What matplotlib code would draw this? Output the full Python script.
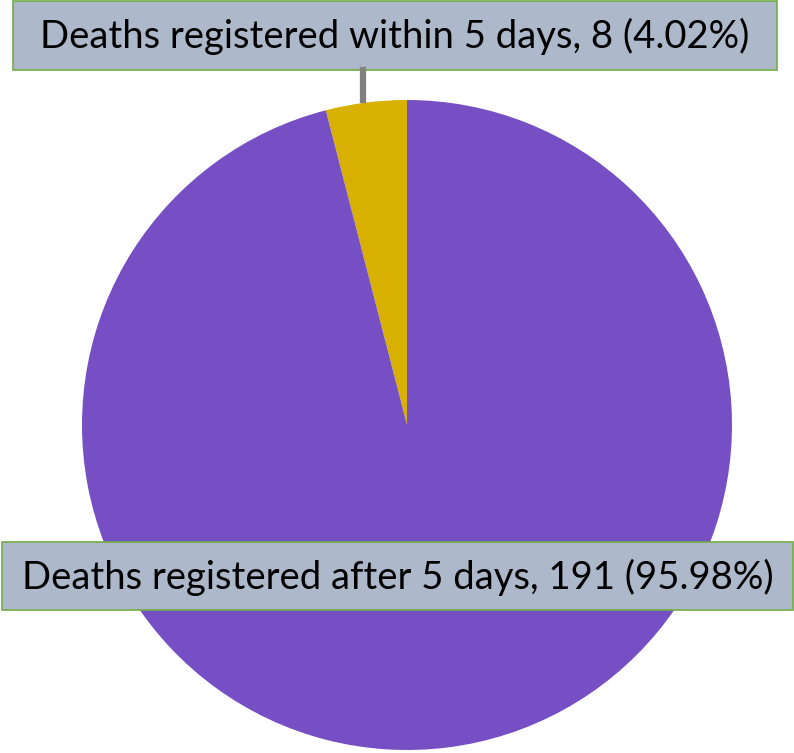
import matplotlib
matplotlib.use('Agg')
import matplotlib.pyplot as plt
from matplotlib.patches import Rectangle
from matplotlib.lines import Line2D

labels = ["Deaths registered within 5 days", "Deaths registered after 5 days"]
counts = [8, 191]
colors = ["#D8B000", "#764FC4"]

W, H = 794, 753
fig = plt.figure(figsize=(W / 100, H / 100), dpi=100)

# pie: centre (407, 425), radius 325 px
cx, cy, r = 407, 425, 325
ax = fig.add_axes([(cx - r) / W, (H - cy - r) / H, 2 * r / W, 2 * r / H])
ax.pie(counts, colors=colors, startangle=90, counterclock=True, radius=1)
ax.set_xlim(-1, 1)
ax.set_ylim(-1, 1)
ax.set_aspect('equal')
ax.axis('off')

total = sum(counts)
texts = [f"{l}, {c} ({c / total * 100:.2f}%)" for l, c in zip(labels, counts)]

# leader line for the small slice
fig.add_artist(Line2D([363 / W, 363 / W], [1 - 70 / H, 1 - 100 / H],
                      color="#808080", lw=4.5, transform=fig.transFigure))

# label boxes (pixel boxes: x0, y0, x1, y1)
boxes = [(13, 1, 777, 70), (2, 542, 793, 610)]
for (x0, y0, x1, y1), t in zip(boxes, texts):
    fig.add_artist(Rectangle((x0 / W, 1 - y1 / H), (x1 - x0) / W, (y1 - y0) / H,
                             facecolor="#ADB9CA", edgecolor="#70AD47", lw=1.2,
                             transform=fig.transFigure))
    fig.text((x0 + x1) / 2 / W, 1 - (y0 + y1 + 2) / 2 / H, t, ha='center', va='center',
             fontsize=27.5, family="Lato", color="black")

fig.savefig("out.png", dpi=100)
